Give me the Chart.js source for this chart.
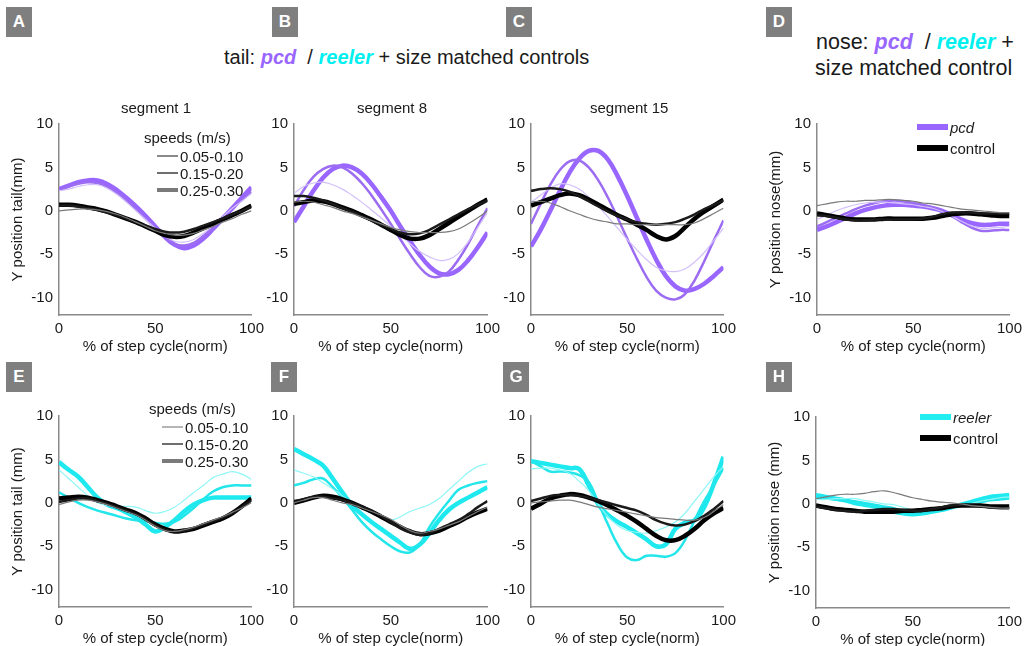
<!DOCTYPE html>
<html>
<head>
<meta charset="utf-8">
<script src="https://cdn.jsdelivr.net/npm/chart.js@4.4.1/dist/chart.umd.min.js"></script>
<style>
  body { margin: 0; background: #fff; font-family: Arial, "Liberation Sans", sans-serif; color: #1a1a1a; }
  #page { position: relative; width: 1029px; height: 646px; overflow: hidden; }
  .box { position: absolute; width: 26px; height: 30px; background: #7f7f7f; color: #fff;
         font-weight: bold; font-size: 17px; line-height: 30px; text-align: center; }
  .txt { position: absolute; white-space: nowrap; font-size: 15px; }
  .big { position: absolute; white-space: nowrap; font-size: 20px; text-align: center; }
  .pcd { color: #9966ff; font-weight: bold; font-style: italic; }
  .reeler { color: #00f0f0; font-weight: bold; font-style: italic; }
  .leg { position: absolute; white-space: nowrap; font-size: 15px; display: flex; align-items: center; }
  .leg span.ln { display: inline-block; margin-right: 2px; }
  canvas { position: absolute; }
</style>
</head>
<body>
<div id="page"></div>
<script>
// x positions (% of step cycle) shared by every trace
const pct = [0, 5, 10, 15, 20, 25, 30, 35, 40, 45, 50, 55, 60, 65, 70, 75, 80, 85, 90, 95, 100];
const xTicks = [0, 50, 100];
const yTicks = [-10, -5, 0, 5, 10];
const speedLabels = ["0.05-0.10", "0.15-0.20", "0.25-0.30"];

// A: tail segment 1, pcd vs control (slow, medium, fast)
const aPcd1 = [2.3, 2.5, 2.8, 3.0, 3.0, 2.6, 1.9, 1.0, 0.0, -1.0, -2.0, -2.9, -3.5, -3.6, -3.3, -2.6, -1.7, -0.7, 0.3, 1.1, 2.0];
const aPcd2 = [2.4, 2.8, 3.1, 3.3, 3.2, 2.8, 2.1, 1.2, 0.2, -0.9, -2.0, -3.0, -3.8, -4.0, -3.7, -2.9, -1.9, -0.8, 0.3, 1.3, 2.2];
const aPcd3 = [2.5, 2.9, 3.3, 3.5, 3.5, 3.1, 2.4, 1.5, 0.5, -0.6, -1.8, -3.0, -3.9, -4.3, -4.0, -3.2, -2.1, -0.9, 0.3, 1.5, 2.7];
const aCtl1 = [0.0, 0.1, 0.2, 0.2, 0.1, -0.1, -0.4, -0.8, -1.3, -1.8, -2.3, -2.6, -2.8, -2.8, -2.6, -2.2, -1.8, -1.3, -0.9, -0.4, 0.0];
const aCtl2 = [0.6, 0.6, 0.5, 0.3, 0.1, -0.2, -0.5, -0.9, -1.3, -1.7, -2.1, -2.4, -2.5, -2.4, -2.1, -1.7, -1.3, -0.9, -0.4, 0.0, 0.5];
const aCtl3 = [0.7, 0.7, 0.6, 0.4, 0.2, -0.1, -0.5, -0.9, -1.3, -1.8, -2.3, -2.8, -3.0, -2.9, -2.5, -2.0, -1.5, -1.0, -0.5, 0.0, 0.6];

// B: tail segment 8
const bPcd1 = [2.0, 2.8, 3.2, 3.3, 3.0, 2.5, 1.8, 1.0, 0.1, -0.8, -1.8, -2.8, -3.8, -4.7, -5.3, -5.7, -5.6, -4.9, -3.6, -1.9, -0.2];
const bPcd2 = [0.5, 2.4, 3.9, 4.8, 5.2, 5.0, 4.3, 3.2, 1.8, 0.2, -1.5, -3.3, -5.0, -6.5, -7.5, -7.6, -7.0, -5.6, -3.8, -1.7, 0.3];
const bPcd3 = [-1.3, 0.5, 2.3, 3.8, 4.8, 5.2, 5.0, 4.3, 3.1, 1.6, 0.0, -1.8, -3.5, -5.1, -6.4, -7.2, -7.3, -6.8, -5.7, -4.2, -2.5];
const bCtl1 = [1.0, 1.1, 1.0, 0.7, 0.4, 0.0, -0.3, -0.7, -1.1, -1.5, -1.9, -2.2, -2.4, -2.5, -2.5, -2.5, -2.4, -2.1, -1.5, -0.8, 0.0];
const bCtl2 = [1.7, 1.7, 1.5, 1.2, 0.8, 0.3, -0.1, -0.6, -1.1, -1.6, -2.1, -2.5, -2.7, -2.6, -2.2, -1.6, -1.0, -0.4, 0.2, 0.7, 1.2];
const bCtl3 = [0.8, 1.0, 1.2, 1.1, 0.8, 0.4, 0.0, -0.5, -1.0, -1.6, -2.2, -2.8, -3.2, -3.2, -2.8, -2.1, -1.4, -0.7, 0.0, 0.7, 1.3];

// C: tail segment 15
const cPcd1 = [1.0, 1.8, 2.6, 3.1, 3.0, 2.5, 1.6, 0.5, -0.7, -2.0, -3.3, -4.5, -5.6, -6.5, -6.9, -7.0, -6.7, -5.9, -4.8, -3.4, -2.0];
const cPcd2 = [-1.5, 0.8, 3.0, 4.7, 5.7, 5.8, 5.0, 3.5, 1.5, -0.8, -3.2, -5.5, -7.6, -9.2, -10.0, -10.2, -9.6, -8.0, -5.8, -3.4, -1.1];
const cPcd3 = [-4.1, -2.2, 0.0, 2.3, 4.4, 6.0, 6.9, 6.9, 5.9, 4.0, 1.7, -0.8, -3.3, -5.6, -7.5, -8.7, -9.2, -9.0, -8.4, -7.5, -6.5];
const cCtl1 = [1.0, 1.1, 0.9, 0.5, 0.0, -0.4, -0.8, -1.1, -1.3, -1.5, -1.5, -1.6, -1.6, -1.6, -1.6, -1.6, -1.6, -1.4, -0.9, -0.3, 0.3];
const cCtl2 = [2.3, 2.5, 2.6, 2.5, 2.2, 1.7, 1.1, 0.5, -0.1, -0.6, -1.0, -1.3, -1.5, -1.6, -1.5, -1.3, -0.9, -0.4, 0.2, 0.7, 1.2];
const cCtl3 = [0.6, 1.0, 1.4, 1.8, 2.0, 1.8, 1.3, 0.7, 0.1, -0.5, -1.0, -1.6, -2.2, -2.9, -3.3, -2.9, -1.9, -0.9, -0.1, 0.6, 1.3];

// D: nose, pcd vs control
const dPcd1 = [-1.0, -0.5, 0.0, 0.4, 0.7, 0.9, 1.0, 1.0, 0.9, 0.8, 0.7, 0.5, 0.3, -0.1, -0.6, -1.2, -1.7, -2.0, -2.0, -1.9, -1.8];
const dPcd2 = [-1.8, -1.3, -0.8, -0.3, 0.2, 0.6, 0.9, 1.1, 1.2, 1.1, 0.9, 0.7, 0.4, 0.0, -0.6, -1.3, -1.9, -2.3, -2.3, -2.2, -2.2];
const dPcd3 = [-2.2, -1.8, -1.3, -0.8, -0.3, 0.1, 0.4, 0.6, 0.7, 0.7, 0.6, 0.5, 0.3, 0.0, -0.5, -1.0, -1.4, -1.6, -1.6, -1.5, -1.5];
const dCtl1 = [0.6, 0.8, 1.0, 1.1, 1.1, 1.2, 1.2, 1.3, 1.3, 1.2, 1.1, 0.9, 0.8, 0.6, 0.4, 0.2, 0.1, 0.0, -0.1, -0.2, -0.2];
const dCtl2 = [-0.5, -0.6, -0.8, -1.0, -1.1, -1.1, -1.0, -1.0, -1.0, -1.0, -1.0, -0.9, -0.7, -0.4, -0.2, -0.2, -0.2, -0.3, -0.3, -0.3, -0.3];
const dCtl3 = [-0.3, -0.5, -0.7, -0.9, -1.0, -1.0, -1.0, -0.9, -0.9, -0.9, -0.9, -0.9, -0.8, -0.6, -0.4, -0.3, -0.3, -0.4, -0.5, -0.6, -0.6];

// E: tail segment 1, reeler vs control
const eRee1 = [3.8, 2.8, 1.8, 0.8, 0.0, -0.3, -0.4, -0.4, -0.5, -0.9, -1.2, -1.0, -0.5, 0.3, 1.2, 2.0, 2.9, 3.3, 3.6, 3.3, 2.7];
const eRee2 = [1.2, 0.6, 0.0, -0.5, -0.9, -1.2, -1.5, -1.8, -2.0, -2.1, -2.3, -2.4, -2.2, -1.5, -0.6, 0.4, 1.3, 1.8, 2.0, 2.0, 2.0];
const eRee3 = [4.7, 3.8, 3.0, 1.8, 0.6, -0.2, -0.6, -1.1, -1.7, -2.5, -3.3, -2.8, -2.0, -1.0, -0.2, 0.3, 0.6, 0.6, 0.6, 0.6, 0.6];
const eCtl1 = [-0.2, 0.1, 0.3, 0.3, 0.1, -0.2, -0.6, -1.0, -1.4, -2.0, -2.7, -3.2, -3.3, -3.1, -2.8, -2.4, -2.0, -1.6, -1.1, -0.6, 0.0];
const eCtl2 = [0.1, 0.3, 0.5, 0.5, 0.2, -0.1, -0.5, -0.9, -1.3, -1.9, -2.6, -3.1, -3.3, -3.2, -2.9, -2.5, -2.1, -1.7, -1.2, -0.5, 0.3];
const eCtl3 = [0.5, 0.6, 0.7, 0.6, 0.3, 0.0, -0.4, -0.8, -1.2, -1.8, -2.5, -3.0, -3.3, -3.2, -3.0, -2.6, -2.2, -1.8, -1.2, -0.4, 0.5];

// F: tail segment 8
const fRee1 = [3.8, 3.4, 3.0, 2.3, 1.6, 0.8, 0.0, -0.6, -1.2, -1.7, -2.0, -1.6, -1.0, -0.6, -0.2, 0.5, 1.5, 2.5, 3.5, 4.2, 4.5];
const fRee2 = [2.0, 2.3, 2.7, 2.8, 1.8, 0.6, -0.8, -2.2, -3.3, -4.2, -5.0, -5.6, -5.7, -4.8, -2.8, -1.2, 0.2, 1.5, 2.0, 2.3, 2.5];
const fRee3 = [6.2, 5.6, 5.0, 4.3, 2.8, 1.2, -0.3, -1.3, -2.2, -3.0, -3.8, -4.6, -5.3, -4.8, -3.5, -2.0, -0.8, 0.0, 0.6, 1.2, 1.8];
const fCtl1 = [0.0, 0.3, 0.6, 0.6, 0.3, 0.0, -0.2, -0.6, -1.0, -1.4, -1.9, -2.6, -3.2, -3.5, -3.3, -3.0, -2.6, -2.2, -1.6, -1.0, -0.5];
const fCtl2 = [0.2, 0.4, 0.7, 0.7, 0.5, 0.3, 0.0, -0.4, -0.9, -1.5, -2.2, -2.9, -3.4, -3.7, -3.5, -3.0, -2.5, -2.0, -1.3, -0.5, 0.2];
const fCtl3 = [0.0, 0.3, 0.6, 0.8, 0.7, 0.4, 0.0, -0.5, -1.0, -1.6, -2.2, -2.8, -3.3, -3.6, -3.5, -3.2, -2.7, -2.2, -1.6, -1.1, -0.7];

// G: tail segment 15
const gRee1 = [3.9, 4.0, 4.0, 3.8, 3.4, 2.5, 1.4, -0.2, -1.6, -2.6, -3.2, -3.4, -3.5, -3.2, -2.8, -2.2, -1.2, 0.2, 1.6, 3.0, 4.2];
const gRee2 = [4.8, 4.2, 3.6, 3.6, 3.5, 3.2, 2.4, 0.0, -2.5, -4.8, -6.3, -6.6, -6.1, -6.1, -6.2, -5.8, -4.3, -2.0, 0.2, 2.0, 4.0];
const gRee3 = [4.8, 4.6, 4.4, 4.2, 4.0, 3.9, 2.0, -0.2, -1.4, -2.2, -2.8, -3.5, -4.2, -5.0, -4.8, -3.0, -2.3, -2.0, -0.5, 2.2, 5.3];
const gCtl1 = [0.0, 0.1, 0.2, 0.3, 0.3, 0.1, -0.2, -0.5, -0.7, -0.9, -1.1, -1.3, -1.5, -1.7, -1.8, -1.9, -2.0, -2.0, -1.7, -1.0, -0.2];
const gCtl2 = [0.2, 0.5, 0.8, 0.9, 0.9, 0.8, 0.6, 0.3, 0.0, -0.3, -0.6, -0.9, -1.4, -2.0, -2.4, -2.6, -2.5, -2.1, -1.5, -0.7, 0.2];
const gCtl3 = [-0.7, -0.1, 0.5, 0.8, 1.0, 0.9, 0.6, 0.2, -0.3, -0.9, -1.5, -2.2, -3.0, -3.8, -4.3, -4.3, -3.8, -3.0, -2.0, -1.2, -0.6];

// H: nose, reeler vs control
const hRee1 = [0.5, 0.5, 0.6, 0.6, 0.6, 0.4, 0.2, 0.0, -0.1, -0.4, -0.7, -0.8, -0.7, -0.6, -0.5, -0.3, 0.0, 0.3, 0.5, 0.7, 0.8];
const hRee2 = [0.7, 0.6, 0.5, 0.4, 0.3, 0.1, -0.1, -0.3, -0.5, -0.8, -1.0, -1.0, -0.8, -0.5, -0.3, -0.1, 0.1, 0.2, 0.4, 0.5, 0.6];
const hRee3 = [1.0, 0.8, 0.6, 0.4, 0.1, -0.1, -0.3, -0.6, -0.9, -1.1, -1.2, -1.1, -0.9, -0.7, -0.4, -0.1, 0.2, 0.5, 0.8, 0.9, 1.0];
const hCtl1 = [0.6, 0.8, 1.0, 1.1, 1.1, 1.2, 1.4, 1.5, 1.3, 1.0, 0.7, 0.5, 0.3, 0.2, 0.1, 0.0, -0.2, -0.3, -0.4, -0.5, -0.5];
const hCtl2 = [-0.3, -0.5, -0.7, -0.8, -0.9, -0.8, -0.7, -0.6, -0.6, -0.7, -0.8, -0.8, -0.6, -0.4, -0.2, -0.1, -0.2, -0.3, -0.4, -0.5, -0.5];
const hCtl3 = [-0.2, -0.4, -0.6, -0.7, -0.8, -0.9, -0.9, -0.9, -0.9, -0.8, -0.8, -0.7, -0.6, -0.5, -0.3, -0.2, -0.2, -0.2, -0.3, -0.3, -0.3];

// line looks
const widths = [1.2, 2.5, 4.5];
const purple = ["#d2c0fb", "#9c6cf2", "#9966ff"];
const cyan = ["#8ef6f6", "#22e6ea", "#1ee9ef"];
const black = ["#7a7a7a", "#1a1a1a", "#000000"];

const FONT = 'Arial, "Liberation Sans", sans-serif';
Chart.defaults.font.family = FONT;
Chart.defaults.color = "#1a1a1a";

// margins around each plot area inside its canvas
const L = 59, R = 16, T = 12, B = 50;
const PX_PER_MM = 8.8;

const page = document.getElementById("page");

const panels = [
  { x0: 59, x1: 253, yTop: 121, ytitle: "Y position tail(mm)", mut: [aPcd1, aPcd2, aPcd3], ctl: [aCtl1, aCtl2, aCtl3], col: purple },
  { x0: 294, x1: 489, yTop: 121, ytitle: "", mut: [bPcd1, bPcd2, bPcd3], ctl: [bCtl1, bCtl2, bCtl3], col: purple },
  { x0: 531, x1: 725, yTop: 121, ytitle: "", mut: [cPcd1, cPcd2, cPcd3], ctl: [cCtl1, cCtl2, cCtl3], col: purple },
  { x0: 817, x1: 1011, yTop: 121, ytitle: "Y position nose(mm)", mut: [dPcd1, dPcd2, dPcd3], ctl: [dCtl1, dCtl2, dCtl3], col: purple },
  { x0: 59, x1: 253, yTop: 413, ytitle: "Y position tail (mm)", mut: [eRee1, eRee2, eRee3], ctl: [eCtl1, eCtl2, eCtl3], col: cyan },
  { x0: 294, x1: 489, yTop: 413, ytitle: "", mut: [fRee1, fRee2, fRee3], ctl: [fCtl1, fCtl2, fCtl3], col: cyan },
  { x0: 531, x1: 725, yTop: 413, ytitle: "", mut: [gRee1, gRee2, gRee3], ctl: [gCtl1, gCtl2, gCtl3], col: cyan },
  { x0: 816, x1: 1011, yTop: 414, ytitle: "Y position nose (mm)", mut: [hRee1, hRee2, hRee3], ctl: [hCtl1, hCtl2, hCtl3], col: cyan }
];

function trace(vals, color, width) {
  return {
    data: pct.map((x, i) => ({ x: x, y: vals[i] })),
    borderColor: color,
    borderWidth: width,
    pointRadius: 0,
    tension: 0.4,
    fill: false
  };
}

function makeChart(p) {
  const plotW = p.x1 - p.x0;
  const plotH = Math.round(22 * PX_PER_MM);
  const cv = document.createElement("canvas");
  const w = L + plotW + R, h = T + plotH + B;
  cv.width = w; cv.height = h;
  cv.style.left = (p.x0 - L) + "px";
  cv.style.top = (p.yTop - T) + "px";
  cv.style.width = w + "px";
  cv.style.height = h + "px";
  page.appendChild(cv);

  const datasets = [];
  p.ctl.forEach((v, i) => datasets.push(trace(v, black[i], widths[i])));
  p.mut.forEach((v, i) => datasets.push(trace(v, p.col[i], widths[i])));

  const tickFont = { size: 15, family: FONT };
  new Chart(cv, {
    type: "line",
    data: { datasets },
    options: {
      responsive: false,
      animation: false,
      events: [],
      layout: { padding: { left: 0, right: R, top: T, bottom: 0 } },
      plugins: { legend: { display: false }, tooltip: { enabled: false } },
      scales: {
        x: {
          type: "linear", min: 0, max: 100,
          afterBuildTicks: s => { s.ticks = xTicks.map(v => ({ value: v })); },
          afterFit: s => { s.height = B; },
          grid: { display: false, drawTicks: false },
          border: { color: "#8a8a8a", width: 1.5 },
          ticks: { font: tickFont, color: "#1a1a1a", padding: 5, maxRotation: 0 },
          title: { display: true, text: "% of step cycle(norm)", font: tickFont, color: "#1a1a1a", padding: { top: 0, bottom: 9 } }
        },
        y: {
          min: -12, max: 10,
          afterBuildTicks: s => { s.ticks = yTicks.map(v => ({ value: v })); },
          afterFit: s => { s.width = L; },
          grid: { display: false, drawTicks: false },
          border: { color: "#8a8a8a", width: 1.5 },
          ticks: { font: tickFont, color: "#1a1a1a", padding: 6 },
          title: { display: !!p.ytitle, text: p.ytitle, font: tickFont, color: "#1a1a1a", padding: { top: 9, bottom: 0 } }
        }
      }
    }
  });
}

panels.forEach(makeChart);

// text, panel letters and legends
function add(cls, html, x, y, extra) {
  const d = document.createElement("div");
  d.className = cls;
  d.innerHTML = html;
  d.style.left = x + "px";
  d.style.top = y + "px";
  if (extra) Object.assign(d.style, extra);
  page.appendChild(d);
  return d;
}

[["A", 6, 7], ["B", 272, 7], ["C", 506, 7], ["D", 766, 7],
 ["E", 6, 362], ["F", 271, 362], ["G", 503, 362], ["H", 766, 362]]
  .forEach(b => add("box", b[0], b[1], b[2]));

add("big", 'tail: <span class="pcd">pcd</span>&nbsp; / <span class="reeler">reeler</span> + size matched controls', 224, 46);
add("big", 'nose: <span class="pcd">pcd</span>&nbsp; / <span class="reeler">reeler</span> +', 816, 30, { fontSize: "21.5px" });
add("big", "size matched control", 815, 56, { fontSize: "21.5px" });

add("txt", "segment 1", 121, 99);
add("txt", "segment 8", 357, 99);
add("txt", "segment 15", 590, 99);

function speedLegend(x, y, thinColor) {
  add("txt", "speeds (m/s)", x - 13, y - 10);
  const cols = [thinColor, "#6e6e6e", "#7a7a7a"];
  speedLabels.forEach((lab, i) => {
    add("leg", '<span class="ln" style="width:21px;height:' + widths[i] + 'px;background:' + cols[i] + '"></span>' + lab,
        x, y + 9 + i * 17, { height: "16px" });
  });
}
speedLegend(157, 139, "#8a8a8a");
speedLegend(162, 410, "#b5b5b5");

function groupLegend(x, y, color, name) {
  add("leg", '<span class="ln" style="width:31px;height:6px;background:' + color + '"></span><i>' + name + '</i>', x, y, { height: "18px" });
  add("leg", '<span class="ln" style="width:31px;height:6px;background:#000"></span>control', x, y + 21, { height: "18px" });
}
groupLegend(917, 118, "#9966ff", "pcd");
groupLegend(920, 408, "#22eef2", "reeler");
</script>
</body>
</html>
